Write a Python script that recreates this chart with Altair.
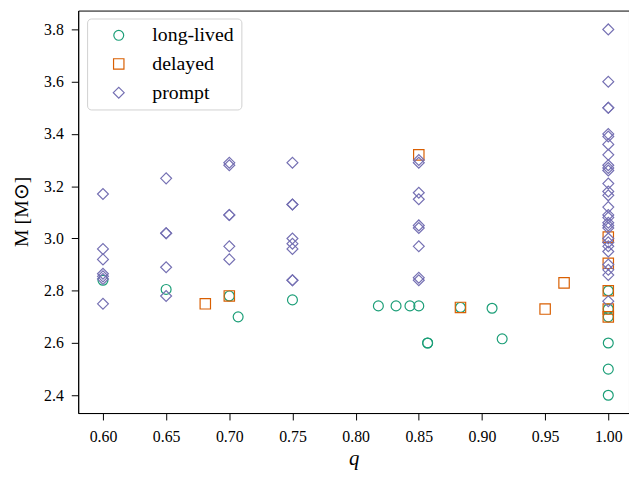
import altair as alt
import pandas as pd

# long-lived (circles)
long_q = [0.60, 0.65, 0.70, 0.707, 0.75, 0.818, 0.832, 0.843, 0.85, 0.857, 0.857,
          0.883, 0.908, 0.916, 1.00, 1.00, 1.00, 1.00, 1.00, 1.00]
long_m = [2.84, 2.805, 2.78, 2.70, 2.765, 2.742, 2.742, 2.742, 2.742, 2.60, 2.60,
          2.736, 2.733, 2.616, 2.80, 2.73, 2.70, 2.60, 2.50, 2.40]

# delayed (squares)
del_q = [0.681, 0.70, 0.85, 0.883, 0.95, 0.965, 1.00, 1.00, 1.00, 1.00, 1.00]
del_m = [2.75, 2.78, 3.32, 2.736, 2.73, 2.83, 3.005, 2.905, 2.80, 2.73, 2.70]

# prompt (diamonds)
pr_q = ([0.60] * 7 + [0.65] * 5 + [0.70] * 6 + [0.75] * 8 + [0.85] * 9 + [1.00] * 28)
pr_m = ([3.17, 2.96, 2.92, 2.865, 2.855, 2.845, 2.75] +
        [3.23, 3.02, 3.02, 2.89, 2.78] +
        [3.29, 3.28, 3.09, 3.09, 2.97, 2.92] +
        [3.29, 3.13, 3.13, 3.00, 2.98, 2.96, 2.84, 2.84] +
        [3.30, 3.29, 3.175, 3.15, 3.05, 3.04, 2.97, 2.85, 2.84] +
        [3.80, 3.60, 3.50, 3.50, 3.40, 3.39, 3.36, 3.32, 3.28, 3.27, 3.26, 3.21,
         3.18, 3.165, 3.12, 3.09, 3.08, 3.06, 3.05, 3.04, 3.00, 2.985, 2.97,
         2.95, 2.90, 2.88, 2.86, 2.76])

cats = ["long-lived", "delayed", "prompt"]
colors = ["#1b9e77", "#d95f02", "#7570b3"]
shapes = ["circle", "square", "diamond"]
sizes = [100, 121, 200]

x_ticks = [0.60, 0.65, 0.70, 0.75, 0.80, 0.85, 0.90, 0.95, 1.00]
y_ticks = [2.4, 2.6, 2.8, 3.0, 3.2, 3.4, 3.6, 3.8]

rows = []
for q, m in zip(long_q, long_m):
    rows.append({"q": q, "M": m, "outcome": "long-lived"})
for q, m in zip(del_q, del_m):
    rows.append({"q": q, "M": m, "outcome": "delayed"})
for q, m in zip(pr_q, pr_m):
    rows.append({"q": q, "M": m, "outcome": "prompt"})
df = pd.DataFrame(rows)
df["idx"] = range(len(df))

FONT = "Liberation Serif"


def leg():
    return alt.Legend(
        title=None, orient="none", legendX=9, legendY=8,
        fillColor="white", strokeColor="#d0d0d0", cornerRadius=4,
        padding=7, rowPadding=9, labelFont=FONT, labelFontSize=20,
        labelColor="black", labelOffset=24, symbolOffset=15,
        symbolStrokeWidth=1.2, symbolFillColor="transparent",
    )


chart = alt.Chart(df).mark_point(filled=False, strokeWidth=1.2, opacity=1).encode(
    x=alt.X("q:Q",
            scale=alt.Scale(domain=[0.5804, 1.0164], nice=False, zero=False),
            axis=alt.Axis(values=x_ticks, format=".2f", title="q",
                          labelFont=FONT, labelFontSize=16,
                          titleFontStyle="italic", titleFontWeight="normal",
                          titleFontSize=21, titleY=52, titleBaseline="alphabetic",
                          labelPadding=9)),
    y=alt.Y("M:Q",
            scale=alt.Scale(domain=[2.332, 3.872], nice=False, zero=False),
            axis=alt.Axis(values=y_ticks, format=".1f", title="M [M⊙]",
                          labelFont=FONT, labelFontSize=16,
                          titleFontWeight="normal", titleFontSize=20,
                          titleX=-57, titleY=203, titleAngle=270,
                          titleAlign="center", titleBaseline="middle",
                          labelPadding=8)),
    color=alt.Color("outcome:N", scale=alt.Scale(domain=cats, range=colors), legend=leg()),
    shape=alt.Shape("outcome:N", scale=alt.Scale(domain=cats, range=shapes), legend=leg()),
    size=alt.Size("outcome:N", scale=alt.Scale(domain=cats, range=sizes), legend=leg()),
    order=alt.Order("idx:Q"),
).properties(
    width=557, height=407,
    padding={"left": 71, "top": 0, "right": 0, "bottom": 56},
    autosize=alt.AutoSizeParams(type="none"),
).configure(
    font=FONT
).configure_view(
    stroke="black", strokeWidth=1
).configure_axis(
    grid=False, domainColor="black", tickColor="black", tickSize=7,
    labelFont=FONT, labelFontSize=16, labelColor="black",
    titleFont=FONT, titleColor="black",
).configure_legend(
    labelFont=FONT
)

chart.save("out.html", embed_options={"renderer": "svg", "actions": False})
